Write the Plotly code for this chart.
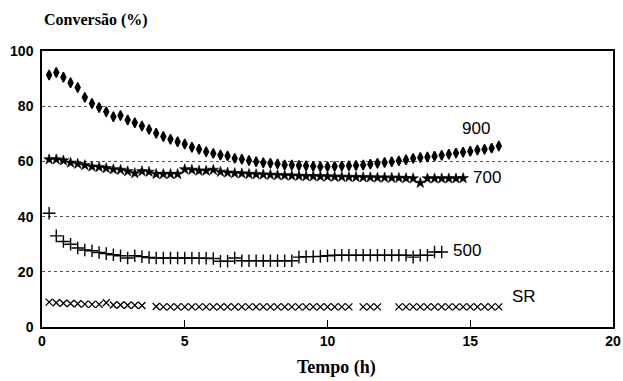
import plotly.graph_objects as go

# ---- data ----
t_900 = [0.25, 0.5, 0.75, 1.0, 1.25, 1.5, 1.75, 2.0, 2.25, 2.5,
         2.75, 3.0, 3.25, 3.5, 3.75, 4.0, 4.25, 4.5, 4.75, 5.0,
         5.25, 5.5, 5.75, 6.0, 6.25, 6.5, 6.75, 7.0, 7.25, 7.5,
         7.75, 8.0, 8.25, 8.5, 8.75, 9.0, 9.25, 9.5, 9.75, 10.0,
         10.25, 10.5, 10.75, 11.0, 11.25, 11.5, 11.75, 12.0, 12.25, 12.5,
         12.75, 13.0, 13.25, 13.5, 13.75, 14.0, 14.25, 14.5, 14.75, 15.0,
         15.25, 15.5, 15.75, 16.0]
conv_900 = [91.3, 92.2, 90.5, 88.5, 86.8, 83.2, 81.0, 79.5, 78.0, 76.2,
            76.6, 75.0, 74.0, 72.8, 71.6, 70.2, 69.0, 68.0, 67.1, 66.3,
            65.1, 64.4, 63.5, 62.9, 62.3, 62.0, 61.1, 60.8, 60.3, 59.9,
            59.5, 59.3, 59.1, 58.7, 58.7, 58.5, 58.4, 58.2, 58.1, 58.1,
            58.2, 58.3, 58.4, 58.5, 58.7, 59.0, 59.3, 59.6, 59.9, 60.2,
            60.6, 61.1, 61.4, 61.6, 61.9, 62.2, 62.6, 63.0, 63.3, 63.7,
            64.1, 64.4, 64.8, 65.6]

t_700 = [0.25, 0.5, 0.75, 1.0, 1.25, 1.5, 1.75, 2.0, 2.25, 2.5,
         2.75, 3.0, 3.25, 3.5, 3.75, 4.0, 4.25, 4.5, 4.75, 5.0,
         5.25, 5.5, 5.75, 6.0, 6.25, 6.5, 6.75, 7.0, 7.25, 7.5,
         7.75, 8.0, 8.25, 8.5, 8.75, 9.0, 9.25, 9.5, 9.75, 10.0,
         10.25, 10.5, 10.75, 11.0, 11.25, 11.5, 11.75, 12.0, 12.25, 12.5,
         12.75, 13.0, 13.25, 13.5, 13.75, 14.0, 14.25, 14.5, 14.75]
conv_700 = [60.7, 60.7, 60.3, 59.5, 59.1, 58.6, 58.1, 57.9, 57.5, 57.1,
            56.9, 56.4, 55.7, 56.4, 56.2, 55.4, 55.4, 55.4, 55.4, 57.1,
            56.9, 56.6, 56.6, 56.9, 56.2, 55.9, 55.7, 55.6, 55.4, 55.3,
            55.2, 55.1, 55.0, 54.9, 54.8, 54.7, 54.6, 54.6, 54.5, 54.5,
            54.4, 54.4, 54.3, 54.3, 54.2, 54.2, 54.1, 54.1, 54.0, 54.0,
            53.9, 53.8, 52.2, 53.8, 53.8, 53.8, 53.8, 53.8, 53.9]

t_500 = [0.25, 0.5, 0.75, 1.0, 1.25, 1.5, 1.75, 2.0, 2.25, 2.5,
         2.75, 3.0, 3.25, 3.5, 3.75, 4.0, 4.25, 4.5, 4.75, 5.0,
         5.25, 5.5, 5.75, 6.0, 6.25, 6.5, 6.75, 7.0, 7.25, 7.5,
         7.75, 8.0, 8.25, 8.5, 8.75, 9.0, 9.25, 9.5, 9.75, 10.0,
         10.25, 10.5, 10.75, 11.0, 11.25, 11.5, 11.75, 12.0, 12.25, 12.5,
         12.75, 13.0, 13.25, 13.5, 13.75, 14.0]
conv_500 = [41.2, 33.0, 31.0, 30.0, 28.6, 27.9, 27.6, 27.0, 26.6, 26.2,
            25.8, 25.0, 25.8, 25.5, 25.2, 25.0, 25.0, 25.0, 25.0, 25.0,
            25.0, 24.9, 24.9, 24.8, 23.8, 23.8, 25.0, 24.0, 24.0, 24.0,
            24.0, 24.0, 24.0, 24.0, 24.0, 25.3, 25.5, 25.5, 25.6, 25.8,
            26.0, 26.0, 26.0, 26.0, 26.0, 26.0, 26.0, 26.0, 26.0, 26.0,
            26.0, 25.3, 26.0, 26.0, 27.2, 27.2]

t_sr = [0.25, 0.5, 0.75, 1.0, 1.25, 1.5, 1.75, 2.0, 2.25, 2.5,
        2.75, 3.0, 3.25, 3.5,
        4.0, 4.25, 4.5, 4.75, 5.0, 5.25, 5.5, 5.75, 6.0, 6.25,
        6.5, 6.75, 7.0, 7.25, 7.5, 7.75, 8.0, 8.25, 8.5, 8.75,
        9.0, 9.25, 9.5, 9.75, 10.0, 10.25, 10.5, 10.75,
        11.25, 11.5, 11.75,
        12.5, 12.75, 13.0, 13.25, 13.5, 13.75, 14.0, 14.25, 14.5, 14.75,
        15.0, 15.25, 15.5, 15.75, 16.0]
conv_sr = [9.0, 8.8, 8.6, 8.5, 8.4, 8.3, 8.2, 8.2, 8.8, 8.0,
           8.0, 7.9, 7.9, 7.8,
           7.4, 7.3, 7.3, 7.3, 7.3, 7.3, 7.3, 7.3, 7.3, 7.3,
           7.3, 7.3, 7.3, 7.3, 7.3, 7.3, 7.3, 7.3, 7.3, 7.3,
           7.3, 7.3, 7.3, 7.3, 7.3, 7.3, 7.3, 7.3,
           7.3, 7.3, 7.3,
           7.3, 7.3, 7.3, 7.3, 7.3, 7.3, 7.3, 7.3, 7.3, 7.3,
           7.3, 7.3, 7.3, 7.3, 7.3]

series_labels = ["900", "700", "500", "SR"]
label_t = [15.2, 15.6, 14.9, 16.9]
label_y = [72.0, 54.0, 27.8, 11.0]

x_ticks = [0, 5, 10, 15, 20]
y_ticks = [0, 20, 40, 60, 80, 100]

fig = go.Figure()

fig.add_trace(go.Scatter(x=t_900, y=conv_900, mode="markers", name="900",
                         marker=dict(symbol="diamond-tall", size=7, color="black",
                                     line=dict(color="black", width=1.4))))
fig.add_trace(go.Scatter(x=t_700, y=conv_700, mode="markers", name="700",
                         marker=dict(symbol="star", size=8, color="black",
                                     line=dict(color="black", width=0.6))))
fig.add_trace(go.Scatter(x=t_500, y=conv_500, mode="markers", name="500",
                         marker=dict(symbol="cross-thin", size=9, color="black",
                                     line=dict(color="black", width=1.4))))
fig.add_trace(go.Scatter(x=t_sr, y=conv_sr, mode="markers", name="SR",
                         marker=dict(symbol="x-thin", size=7, color="black",
                                     line=dict(color="black", width=1.3))))

for lab, lx, ly in zip(series_labels, label_t, label_y):
    fig.add_annotation(x=lx, y=ly, text=lab, showarrow=False, xref="x", yref="y",
                       font=dict(family="Liberation Sans, Arial", size=17, color="black"))

fig.add_annotation(x=0, y=1, xref="paper", yref="paper", xanchor="left", yanchor="bottom",
                   yshift=20, text="Conversão (%)", showarrow=False,
                   font=dict(family="Liberation Serif, Times New Roman", size=16,
                             color="black", weight="bold"))
fig.add_annotation(x=0.515, y=0, xref="paper", yref="paper", xanchor="center", yanchor="top",
                   yshift=-28, text="Tempo (h)", showarrow=False,
                   font=dict(family="Liberation Serif, Times New Roman", size=18,
                             color="black", weight="bold"))

fig.update_layout(
    width=623, height=381,
    margin=dict(l=42, r=10, t=51, b=54, autoexpand=False),
    paper_bgcolor="white", plot_bgcolor="white",
    showlegend=False,
    xaxis=dict(range=[0, 20], tickvals=x_ticks, ticks="inside", ticklen=7,
               tickcolor="black", tickwidth=1, showgrid=False, zeroline=False,
               automargin=False,
               showline=True, linecolor="black", linewidth=1.5, mirror=True,
               tickfont=dict(family="Liberation Sans, Arial", size=14,
                             color="black", weight="bold")),
    yaxis=dict(range=[0, 100], tickvals=y_ticks, ticks="", showgrid=True,
               gridcolor="#555555", griddash="dot", gridwidth=1, zeroline=False,
               automargin=False,
               showline=True, linecolor="black", linewidth=1.5, mirror=True,
               ticklabelstandoff=4,
               tickfont=dict(family="Liberation Sans, Arial", size=14,
                             color="black", weight="bold")),
)

# remove the browser's default 8px body margin so the figure fills the window
fig.write_html("out.html",
               config={"displayModeBar": False},
               post_script="document.body.style.margin='0';"
                           "document.body.style.overflow='hidden';")
